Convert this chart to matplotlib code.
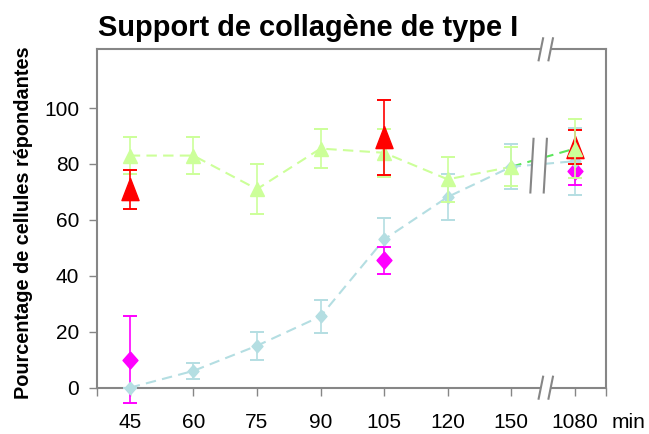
import matplotlib
matplotlib.use("Agg")
import matplotlib.pyplot as plt
from matplotlib.patches import Polygon

plt.rcParams['font.family'] = ['Liberation Sans', 'DejaVu Sans']

# data
times = ["45", "60", "75", "90", "105", "120", "150", "1080"]
green_vals = [83, 83, 71, 85.5, 84, 74.5, 79, 85.5]
green_err = [6.7, 6.7, 9, 7, 8.5, 8, 7, 10.5]
blue_vals = [0, 6, 15, 25.5, 53, 68.2, 79, 81]
blue_err = [0, 3, 5, 6, 7.7, 8.2, 8, 12]
red_idx = [0, 4, 7]
red_vals = [71, 89.5, 86]
red_err = [7, 13.5, 6]
pink_idx = [0, 4, 7]
pink_vals = [10, 45.5, 77.5]
pink_err = [15.5, 4.7, 5]

LIME = '#CCFF99'
GREEN2 = '#5CE65C'
BLUE = '#B4DEE2'
RED = '#FF0000'
PINK = '#FF00FF'
GREY = '#868686'

tall_tri = [(0, 1), (-0.77, -1), (0.77, -1), (0, 1)]
diamond = [(0, 1), (0.88, 0), (0, -1), (-0.88, 0), (0, 1)]

fig = plt.figure(figsize=(6.49, 4.34), dpi=100)
ax = fig.add_axes([0.149, 0.1067, 0.7848, 0.7797])
xs = list(range(len(times)))
last = len(times) - 1


def errbars(x, y, e, color, marker, ms, z_bar, z_mark):
    cont = ax.errorbar(x, y, yerr=e, fmt='none', ecolor=color, elinewidth=1.2,
                       capsize=4.8, capthick=1.4, zorder=z_bar)
    for art in cont.lines[1] + cont.lines[2]:
        art.set_clip_on(False)
    ax.plot(x, y, linestyle='none', marker=marker, ms=ms, color=color,
            mec=color, zorder=z_mark, clip_on=False)


# dashed connecting lines
ax.plot(xs[:last], green_vals[:last], '--', color=LIME, lw=1.5, dashes=(5, 3), zorder=2)
ax.plot(xs[last - 1:], green_vals[last - 1:], '--', color=GREEN2, lw=1.5, dashes=(5, 3), zorder=2)
ax.plot(xs, blue_vals, '--', color=BLUE, lw=1.5, dashes=(5, 3), zorder=2)

errbars(xs, blue_vals, blue_err, BLUE, diamond, 9, 3, 4)
errbars(pink_idx, pink_vals, pink_err, PINK, diamond, 12.2, 3.5, 3.6)
errbars(red_idx[-1:], red_vals[-1:], red_err[-1:], RED, tall_tri, 16, 4.5, 4.6)
errbars(xs, green_vals, green_err, LIME, '^', 9.5, 5, 5.1)
errbars(red_idx[:-1], red_vals[:-1], red_err[:-1], RED, tall_tri, 16, 6, 6.1)

ax.set_xlim(-0.52, 7.49)
ax.set_ylim(0, 121)
ax.set_xticks(xs)
ax.set_xticklabels(times)
ax.set_xticks([-0.52, 7.49], minor=True)
ax.set_yticks(range(0, 101, 20))
ax.tick_params(axis='both', which='both', direction='out', length=5.5, width=1,
               color=GREY, labelsize=15, labelcolor='black')
ax.tick_params(axis='x', pad=13)
ax.tick_params(axis='y', pad=7)
for sp in ax.spines.values():
    sp.set_color(GREY)
    sp.set_linewidth(1.5)

# axis break on the top and bottom spines
trans = ax.get_xaxis_transform()
for yb in (0, 1):
    ax.add_patch(Polygon([(6.47, yb - 0.02), (6.63, yb - 0.02), (6.63, yb + 0.02), (6.47, yb + 0.02)],
                         closed=True, transform=trans, facecolor='white', edgecolor='none',
                         clip_on=False, zorder=10))
    for xb in (6.465, 6.62):
        ax.plot([xb - 0.035, xb + 0.035], [yb - 0.0325, yb + 0.0325], color=GREY, lw=1.5,
                transform=trans, clip_on=False, zorder=11)

# break marks across the data lines
ax.add_patch(Polygon([(6.35, 89), (6.56, 89), (6.51, 69.8), (6.30, 69.8)], closed=True,
                     facecolor='white', edgecolor='none', zorder=2.5))
ax.plot([6.35, 6.30], [89, 69.8], color=GREY, lw=1.5, zorder=2.6)
ax.plot([6.56, 6.51], [89, 69.8], color=GREY, lw=1.5, zorder=2.6)

fig.text(98 / 649, 1 - 36 / 434, "Support de collagène de type I", fontsize=20.9,
         fontweight='bold', va='baseline', ha='left')
fig.text(24 / 649, 0.486, "Pourcentage de cellules répondantes", fontsize=14.3,
         fontweight='bold', rotation=90, va='center', ha='center')
ax.annotate("min", xy=(1, 0), xycoords='axes fraction', xytext=(4, -(5.5 + 13)),
            textcoords='offset points', fontsize=15, va='top', ha='left')

fig.savefig("out.png", dpi=100)
